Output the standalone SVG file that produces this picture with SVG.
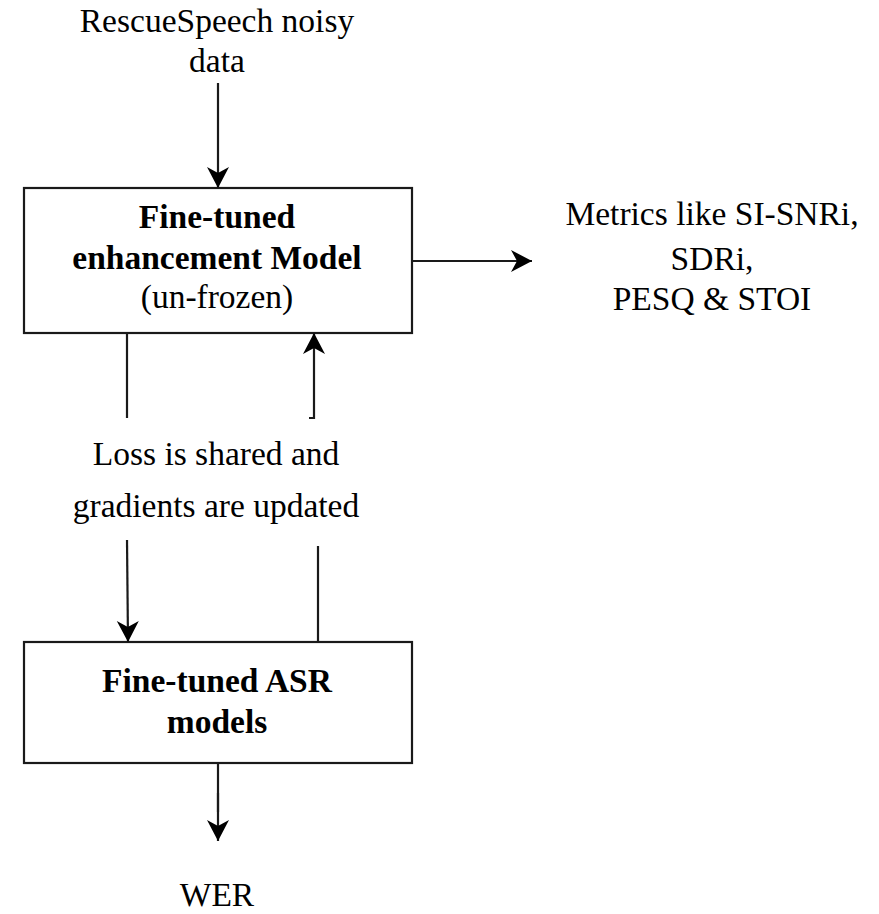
<svg xmlns="http://www.w3.org/2000/svg" width="879" height="914" viewBox="0 0 879 914">
  <style>
    .box { fill: #ffffff; stroke: #1a1a1a; stroke-width: 2.2; }
    .wire { fill: none; stroke: #1a1a1a; stroke-width: 2.2; }
    .t { font-family: "Liberation Serif", "Times New Roman", serif; font-size: 33.5px; fill: #000; text-anchor: middle; }
    .b { font-weight: bold; }
  </style>
  <defs>
    <marker id="arrow" markerUnits="userSpaceOnUse" markerWidth="26" markerHeight="26" viewBox="-23 -13 26 26" refX="0" refY="0" orient="auto">
      <path d="M0,0 L-21,-11 L-15,0 L-21,11 Z" fill="#000"/>
    </marker>
  </defs>
  <rect width="879" height="914" fill="#ffffff"/>

  <!-- input label -->
  <g id="input">
    <text class="t" x="217" y="32">RescueSpeech noisy</text>
    <text class="t" x="217" y="72">data</text>
  </g>

  <!-- enhancement model -->
  <g id="enhancement">
    <rect class="box" x="24" y="188" width="388" height="145"/>
    <text class="t b" x="217" y="228">Fine-tuned</text>
    <text class="t b" x="217" y="269">enhancement Model</text>
    <text class="t" x="217" y="308">(un-frozen)</text>
  </g>

  <!-- metrics label -->
  <g id="metrics">
    <text class="t" x="712" y="225">Metrics like SI-SNRi,</text>
    <text class="t" x="712" y="270">SDRi,</text>
    <text class="t" x="712" y="310">PESQ &amp; STOI</text>
  </g>

  <!-- loss label -->
  <g id="loss">
    <text class="t" x="216" y="465">Loss is shared and</text>
    <text class="t" x="216" y="517">gradients are updated</text>
  </g>

  <!-- ASR model -->
  <g id="asr">
    <rect class="box" x="24" y="642" width="388" height="121"/>
    <text class="t b" x="217" y="692">Fine-tuned ASR</text>
    <text class="t b" x="217" y="733">models</text>
  </g>

  <!-- output label -->
  <g id="wer">
    <text class="t" x="217" y="906">WER</text>
  </g>

  <!-- connectors -->
  <g id="connectors">
    <line class="wire" x1="218" y1="83" x2="218" y2="188" marker-end="url(#arrow)"/>
    <line class="wire" x1="412" y1="261" x2="532" y2="261" marker-end="url(#arrow)"/>
    <line class="wire" x1="127" y1="333" x2="127" y2="418"/>
    <path class="wire" d="M309,418 H314 V333" marker-end="url(#arrow)"/>
    <line class="wire" x1="127" y1="540" x2="128" y2="642" marker-end="url(#arrow)"/>
    <line class="wire" x1="318" y1="546" x2="318" y2="642"/>
    <line class="wire" x1="218" y1="763" x2="218" y2="841" marker-end="url(#arrow)"/>
    <line class="wire" x1="218" y1="793" x2="218" y2="812" stroke-width="3.6"/>
  </g>
</svg>
